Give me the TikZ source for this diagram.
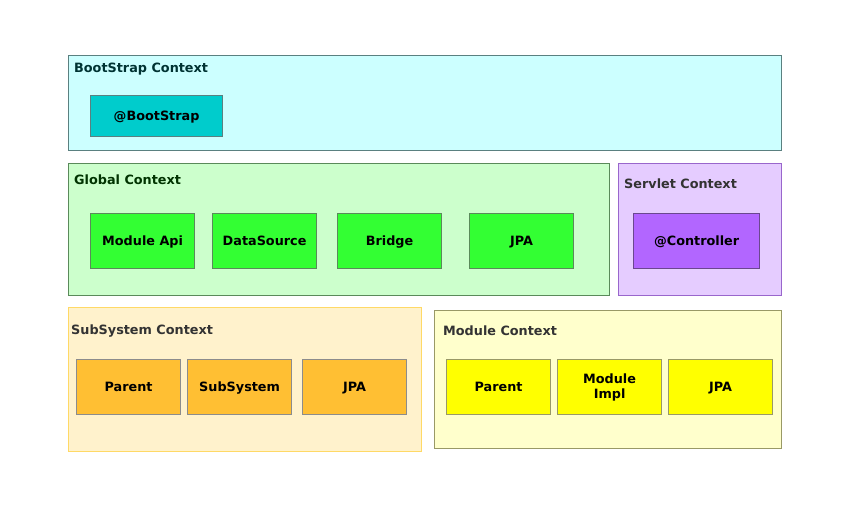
\documentclass[tikz,border=0pt]{standalone}
\usepackage{fontspec}
\setmainfont{DejaVu Sans}
\definecolor{bootfill}{HTML}{CCFFFF}
\definecolor{bootdraw}{HTML}{5A8080}
\definecolor{bootbean}{HTML}{00CCCC}
\definecolor{boottext}{HTML}{003333}
\definecolor{globfill}{HTML}{CCFFCC}
\definecolor{globdraw}{HTML}{5A8A5A}
\definecolor{globbean}{HTML}{33FF33}
\definecolor{globtext}{HTML}{003300}
\definecolor{servfill}{HTML}{E5CCFF}
\definecolor{servdraw}{HTML}{9966CC}
\definecolor{servbean}{HTML}{B266FF}
\definecolor{subsfill}{HTML}{FFF2CC}
\definecolor{subsdraw}{HTML}{FFD966}
\definecolor{subsbean}{HTML}{FFBF33}
\definecolor{modfill}{HTML}{FFFFCC}
\definecolor{moddraw}{HTML}{999966}
\definecolor{modbean}{HTML}{FFFF00}
\begin{document}
\begin{tikzpicture}[x=1pt,y=-1pt,
	context/.style={rectangle,draw,line width=1.2pt,anchor=north west,inner sep=0pt},
	title/.style={anchor=west,inner sep=0pt,font=\fontsize{12.8}{15}\selectfont\bfseries,text=black!80},
	beanbox/.style={rectangle,draw=black!50,line width=1.2pt,anchor=north west,minimum width=104pt,minimum height=55pt,inner sep=0pt,align=center,font=\fontsize{12.8}{15}\selectfont\bfseries},
	bean/.style={beanbox,text height=11pt,text depth=1.5pt}]
				\useasboundingbox (0,0) rectangle (843,513);
				% contexts
				\node[context,draw=bootdraw,fill=bootfill,minimum width=713pt,minimum height=95pt] (bootctx) at (68,55) {};
				\node[context,draw=globdraw,fill=globfill,minimum width=541pt,minimum height=132pt] (globctx) at (68,163) {};
				\node[context,draw=servdraw,fill=servfill,minimum width=163pt,minimum height=132pt] (servctx) at (618,163) {};
				\node[context,draw=subsdraw,fill=subsfill,minimum width=353pt,minimum height=144pt] (subsctx) at (68,307) {};
				\node[context,draw=moddraw,fill=modfill,minimum width=347pt,minimum height=138pt] (modctx) at (434,310) {};
				% titles
				\node[title,text=boottext] (boottitle) at (74,69) {BootStrap Context};
				\node[title,text=globtext] (globtitle) at (74,180) {Global Context};
				\node[title] (servtitle) at (624,184) {Servlet Context};
				\node[title] (substitle) at (71,331) {SubSystem Context};
				\node[title] (modtitle) at (443,331) {Module Context};
				% beans
				\node[bean,fill=bootbean,draw=bootdraw,minimum width=132pt,minimum height=41pt] (bootstrap) at (90,95) {@BootStrap};
				\node[bean,fill=globbean,draw=globdraw] (moduleapi) at (90,213) {Module Api};
				\node[bean,fill=globbean,draw=globdraw] (datasource) at (212,213) {DataSource};
				\node[bean,fill=globbean,draw=globdraw] (bridge) at (337,213) {Bridge};
				\node[bean,fill=globbean,draw=globdraw] (globjpa) at (469,213) {JPA};
				\node[bean,fill=servbean,draw=servdraw!70!black,minimum width=126pt] (controller) at (633,213) {@Controller};
				\node[bean,fill=subsbean,draw=black!45] (subsparent) at (76,359) {Parent};
				\node[bean,fill=subsbean,draw=black!45] (subsystem) at (187,359) {SubSystem};
				\node[bean,fill=subsbean,draw=black!45] (subsjpa) at (302,359) {JPA};
				\node[bean,fill=modbean,draw=moddraw] (modparent) at (446,359) {Parent};
				\node[beanbox,fill=modbean,draw=moddraw] (modimpl) at (557,359) {Module\\Impl};
				\node[bean,fill=modbean,draw=moddraw] (modjpa) at (668,359) {JPA};
			\end{tikzpicture}
\end{document}
